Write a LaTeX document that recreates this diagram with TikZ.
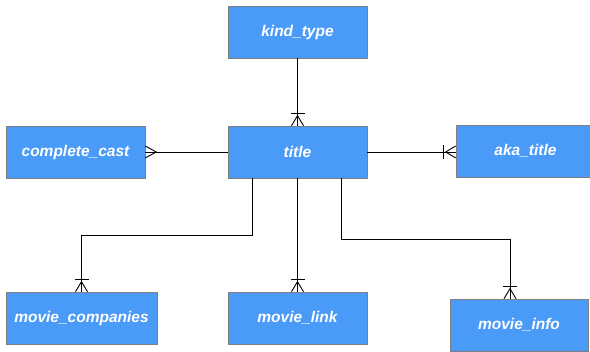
\documentclass[tikz,border=0pt]{standalone}
\usepackage{fontspec}
\setmainfont{Liberation Sans}
\usetikzlibrary{calc}
\definecolor{entblue}{HTML}{4A9BF8}
\begin{document}
\begin{tikzpicture}[x=1pt,y=-1pt,
  entity/.style={rectangle, draw=black!50, fill=entblue, text=white,
    font=\fontsize{15.5}{18}\selectfont\bfseries\itshape,
    minimum height=52pt, inner sep=0pt, line width=0.6pt},
  link/.style={draw=black, line width=0.9pt}]
\useasboundingbox (0,0) rectangle (590,352);

% entities
\node[entity, minimum width=139pt] (kind)  at (297.5,32)  {kind\_type};
\node[entity, minimum width=139pt] (title) at (297.5,152) {title};
\node[entity, minimum width=139pt] (cast)  at (75.5,152)  {complete\_cast};
\node[entity, minimum width=139pt] (aka)   at (525.5,151) {aka\_title};
\node[entity, minimum width=151pt] (comp)  at (81.5,318)  {movie\_companies};
\node[entity, minimum width=139pt] (mlink) at (297.5,318) {movie\_link};
\node[entity, minimum width=138pt] (minfo) at (519,325)   {movie\_info};

% relationship lines
\draw[link] (kind.south) -- (title.north);
\draw[link] (title.west) -- (cast.east);
\draw[link] (title.east) -- (aka.west |- title.east);
\draw[link] ($(title.south)+(-45.5,0)$) |- (81.5,235) -- (comp.north);
\draw[link] (title.south) -- (mlink.north);
\draw[link] ($(title.south)+(43.5,0)$) |- (510,239) -- (minfo.north -| 510,0);

% crow's feet (many, with one-bar) at vertical ends
\foreach \p in {title.north, comp.north, mlink.north} {
  \draw[link] ($(\p)+(-6,0)$) -- ($(\p)+(0,-10)$) -- ($(\p)+(6,0)$);
  \draw[link] ($(\p)+(-7,-12)$) -- ($(\p)+(7,-12)$);
}
\coordinate (mi) at (minfo.north -| 510,0);
\draw[link] ($(mi)+(-6,0)$) -- ($(mi)+(0,-10)$) -- ($(mi)+(6,0)$);
\draw[link] ($(mi)+(-7,-12)$) -- ($(mi)+(7,-12)$);

% crow's foot at complete_cast (many)
\draw[link] ($(cast.east)+(0,-6)$) -- ($(cast.east)+(11,0)$) -- ($(cast.east)+(0,6)$);

% crow's foot with bar at aka_title
\coordinate (ak) at (aka.west |- title.east);
\draw[link] ($(ak)+(0,-6)$) -- ($(ak)+(-10,0)$) -- ($(ak)+(0,6)$);
\draw[link] ($(ak)+(-12,-7)$) -- ($(ak)+(-12,7)$);
\end{tikzpicture}
\end{document}
